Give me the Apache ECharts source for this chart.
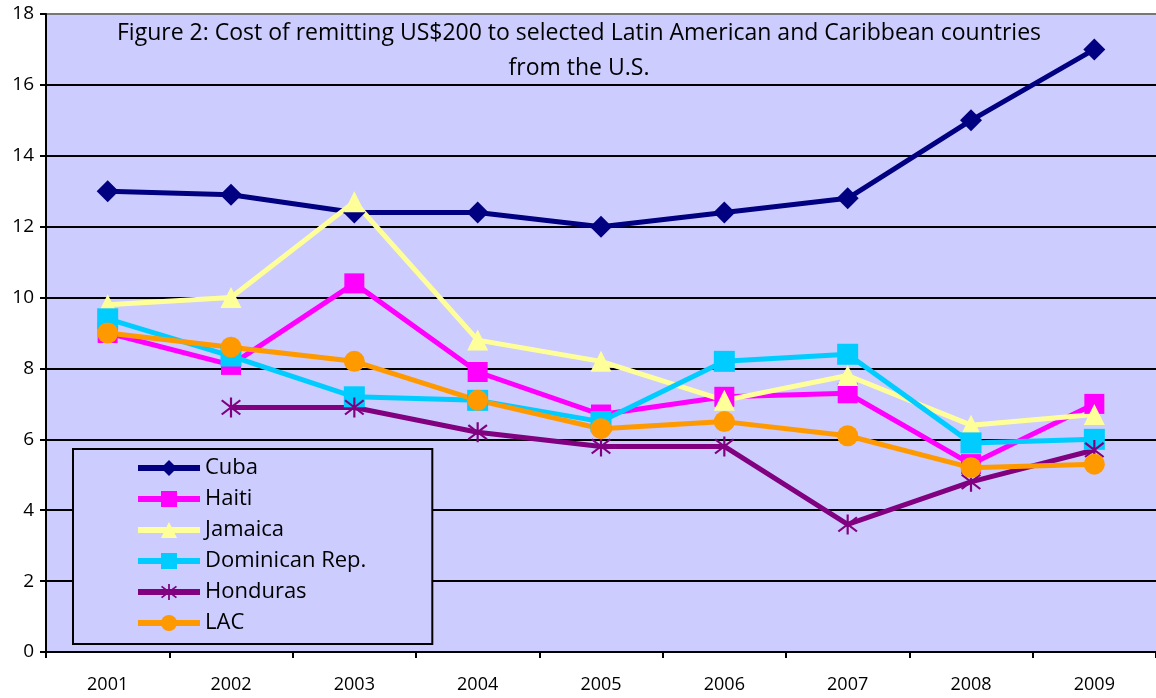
<!DOCTYPE html>
<html><head><meta charset="utf-8">
<script src="https://cdn.jsdelivr.net/npm/echarts@6/dist/echarts.min.js"></script>
<style>html,body{margin:0;padding:0;background:#fff}#c{width:1156px;height:698px}</style>
</head><body><div id="c"></div>
<script>
const years = ['2001','2002','2003','2004','2005','2006','2007','2008','2009'];
const cuba     = [13.0, 12.9, 12.4, 12.4, 12.0, 12.4, 12.8, 15.0, 17.0];
const haiti    = [9.0, 8.1, 10.4, 7.9, 6.7, 7.2, 7.3, 5.3, 7.0];
const jamaica  = [9.8, 10.0, 12.7, 8.8, 8.2, 7.1, 7.8, 6.4, 6.7];
const dominican= [9.4, 8.35, 7.2, 7.1, 6.5, 8.2, 8.4, 5.9, 6.0];
const honduras = [null, 6.9, 6.9, 6.2, 5.8, 5.8, 3.6, 4.8, 5.7];
const lac      = [9.0, 8.6, 8.2, 7.1, 6.3, 6.5, 6.1, 5.2, 5.3];
const titleText = 'Figure 2: Cost of remitting US$200 to selected Latin American and Caribbean countries\nfrom the U.S.';

const FONT = '"Open Sans", sans-serif';
const asterisk = 'path://M9,0 L11,0 L11,20 L9,20 Z M2.14,2.13 L19.14,16.33 L17.86,17.87 L0.86,3.67 Z M19.14,3.67 L2.14,17.87 L0.86,16.33 L17.86,2.13 Z';

function mk(name, data, color, symbol, size) {
  return {
    name, type: 'line', data, symbol, symbolSize: size,
    showAllSymbol: true, connectNulls: false,
    lineStyle: { color, width: 5 },
    itemStyle: { color, borderWidth: 0 },
    emphasis: { disabled: true },
    animation: false
  };
}

const chart = echarts.init(document.getElementById('c'), null, { renderer: 'canvas' });
chart.setOption({
  animation: false,
  backgroundColor: '#ffffff',
  title: {
    text: titleText, left: 574, top: 11, textAlign: 'center',
    textStyle: { fontFamily: FONT, fontSize: 23, fontWeight: 'normal', color: '#000', lineHeight: 35, align: 'center' }
  },
  grid: { left: 46, top: 14, right: -6, bottom: 46, show: true, backgroundColor: '#CCCCFF', borderWidth: 0 },
  xAxis: {
    type: 'category', data: years, boundaryGap: true,
    axisLine: { lineStyle: { color: '#000', width: 2 } },
    axisTick: { show: true, length: 6, lineStyle: { color: '#000', width: 2 } },
    axisLabel: { fontFamily: FONT, fontSize: 18, color: '#000', margin: 24 },
    splitLine: { show: false }
  },
  yAxis: {
    type: 'value', min: 0, max: 18, interval: 2,
    axisLine: { show: true, lineStyle: { color: '#000', width: 2 } },
    axisTick: { show: true, length: 6, lineStyle: { color: '#000', width: 2 } },
    axisLabel: { fontFamily: FONT, fontSize: 19, color: '#000', margin: 12 },
    splitLine: { show: true, lineStyle: { color: ['#000','#000','#000','#000','#000','#000','#000','#000','#000','#777'], width: 2 } }
  },
  legend: {
    orient: 'vertical', left: 73, top: 449,
    backgroundColor: '#CCCCFF', borderColor: '#000', borderWidth: 2,
    padding: [8, 66, 10, 62],
    itemWidth: 62, itemHeight: 20, itemGap: 9,
    lineStyle: { width: 6 },
    textStyle: { fontFamily: FONT, fontSize: 22, color: '#000', padding: [0,0,0,0] },
    data: ['Cuba','Haiti','Jamaica','Dominican Rep.','Honduras','LAC']
  },
  series: [
    mk('Cuba', cuba, '#000080', 'diamond', 22),
    mk('Haiti', haiti, '#FF00FF', 'rect', 20),
    mk('Jamaica', jamaica, '#FFFF99', 'triangle', 21),
    mk('Dominican Rep.', dominican, '#00CCFF', 'rect', 21),
    mk('Honduras', honduras, '#800080', asterisk, 20),
    mk('LAC', lac, '#FF9900', 'circle', 21)
  ]
});
</script>
</body></html>
